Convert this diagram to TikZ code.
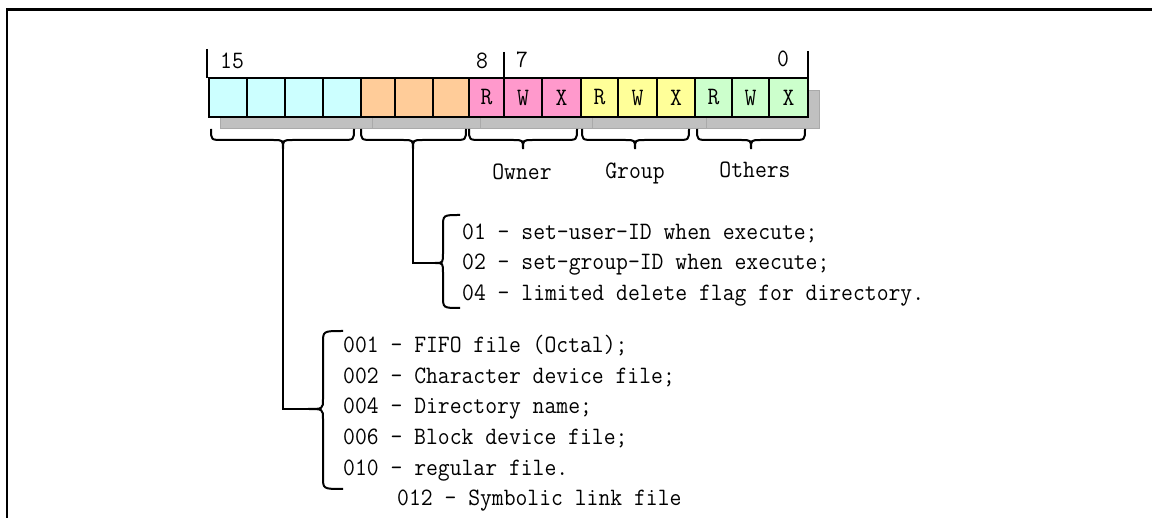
\documentclass[tikz,border=0pt]{standalone}
\usepackage{fontspec}
\newfontfamily\monof[FakeStretch=0.92]{Latin Modern Mono}
\definecolor{cyanc}{RGB}{204,255,255}
\definecolor{orangec}{RGB}{255,204,153}
\definecolor{pinkc}{RGB}{255,153,204}
\definecolor{yellowc}{RGB}{255,255,153}
\definecolor{greenc}{RGB}{204,255,204}
\definecolor{shadowc}{RGB}{192,192,192}
\definecolor{shadowedge}{RGB}{170,170,170}
\newcommand\HBrace[4]{% left, right, tip x, name
  \draw[bracestyle] (#1,129) .. controls (#1,140) .. ({#1+12},140) -- ({#3-10},140)
    .. controls (#3,140) .. (#3,149) .. controls (#3,140) .. ({#3+10},140)
    -- ({#2-12},140) .. controls (#2,140) .. (#2,129);
  \coordinate (#4) at (#3,149);}
\newcommand\VBrace[7]{% end x, top, bottom, mid, arm offset, tip offset, name
  \draw[bracestyle] (#1,#2) .. controls ({#1-#5},#2) .. ({#1-#5},{#2+12}) -- ({#1-#5},{#4-10})
    .. controls ({#1-#5},#4) .. ({#1-#6},#4) .. controls ({#1-#5},#4) .. ({#1-#5},{#4+10})
    -- ({#1-#5},{#3-12}) .. controls ({#1-#5},#3) .. (#1,#3);
  \coordinate (#7) at ({#1-#6},#4);}
\begin{document}
\begin{tikzpicture}[x=1pt,y=-1pt,
  txt/.style={font=\monof\fontsize{25}{30}\selectfont, inner sep=0pt},
  line/.style={anchor=base west, txt},
  cell/.style={draw=black, line width=1.6pt, minimum height=39pt, inner sep=0pt, txt},
  bracestyle/.style={draw=black, line width=2pt},
  conn/.style={draw=black, line width=2pt},
  tick/.style={draw=black, line width=2pt},
  shadowbox/.style={fill=shadowc, draw=shadowedge, line width=0.8pt}]
\useasboundingbox (0,0) rectangle (1152,518);
% frame
\draw[line width=2.5pt] (7,518) -- (7,9.5) -- (1152,9.5);
% shadows
\foreach \l/\r in {209/361,361/469,469/581,581/695,695/808}
  \path[shadowbox] ({\l+11},90) rectangle ({\r+11},128.5);
% cells
\foreach \l/\r/\c/\t/\n in {209/247/cyanc//b15,247/285/cyanc//b14,285/323/cyanc//b13,323/361/cyanc//b12,
  361/395/orangec//b11,395/433/orangec//b10,433/469/orangec//b9,
  469/504/pinkc/R/b8,504/542/pinkc/W/b7,542/581/pinkc/X/b6,
  581/618/yellowc/R/b5,618/657/yellowc/W/b4,657/695/yellowc/X/b3,
  695/732/greenc/R/b2,732/769/greenc/W/b1,769/808/greenc/X/b0}
  \node[cell, fill=\c, minimum width={(\r-\l)*1pt}] (\n) at ({(\l+\r)/2},97.5) {\t};
% ticks
\draw[tick] (207,49) -- (207,78);
\draw[tick] (504,52) -- (504,78);
\draw[tick] (808,51) -- (808,78);
% bit numbers
\node[txt, anchor=base] (n15) at (232,69) {15};
\node[txt, anchor=base] (n8) at (482,69) {8};
\node[txt, anchor=base] (n7) at (522,68) {7};
\node[txt, anchor=base] (n0) at (783,67) {0};
% braces under groups
\HBrace{211}{354}{283}{g1}
\HBrace{361}{466}{413}{g2}
\HBrace{469}{577}{523}{g3}
\HBrace{582}{689}{635}{g4}
\HBrace{697}{805}{751}{g5}
\node[txt, anchor=base] (owner) at (522,180) {Owner};
\node[txt, anchor=base] (group) at (635,179) {Group};
\node[txt, anchor=base] (others) at (755,178) {Others};
% side braces
\VBrace{460}{215}{308}{263}{17}{25}{su}
\VBrace{343}{331}{489}{409}{20}{35}{ft}
% connectors
\draw[conn] (g2) |- (su);
\draw[conn] (g1) |- (ft);
% texts
\node[line] (s1) at (462,239.5) {01 - set-user-ID when execute;};
\node[line] (s2) at (462,270) {02 - set-group-ID when execute;};
\node[line] (s3) at (462,300.5) {04 - limited delete flag for directory.};
\node[line] (f1) at (343,353) {001 - FIFO file (Octal);};
\node[line] (f2) at (343,383.5) {002 - Character device file;};
\node[line] (f3) at (343,414) {004 - Directory name;};
\node[line] (f4) at (343,445) {006 - Block device file;};
\node[line] (f5) at (343,476) {010 - regular file.};
\node[line] (f6) at (397,506) {012 - Symbolic link file};
\end{tikzpicture}
\end{document}
